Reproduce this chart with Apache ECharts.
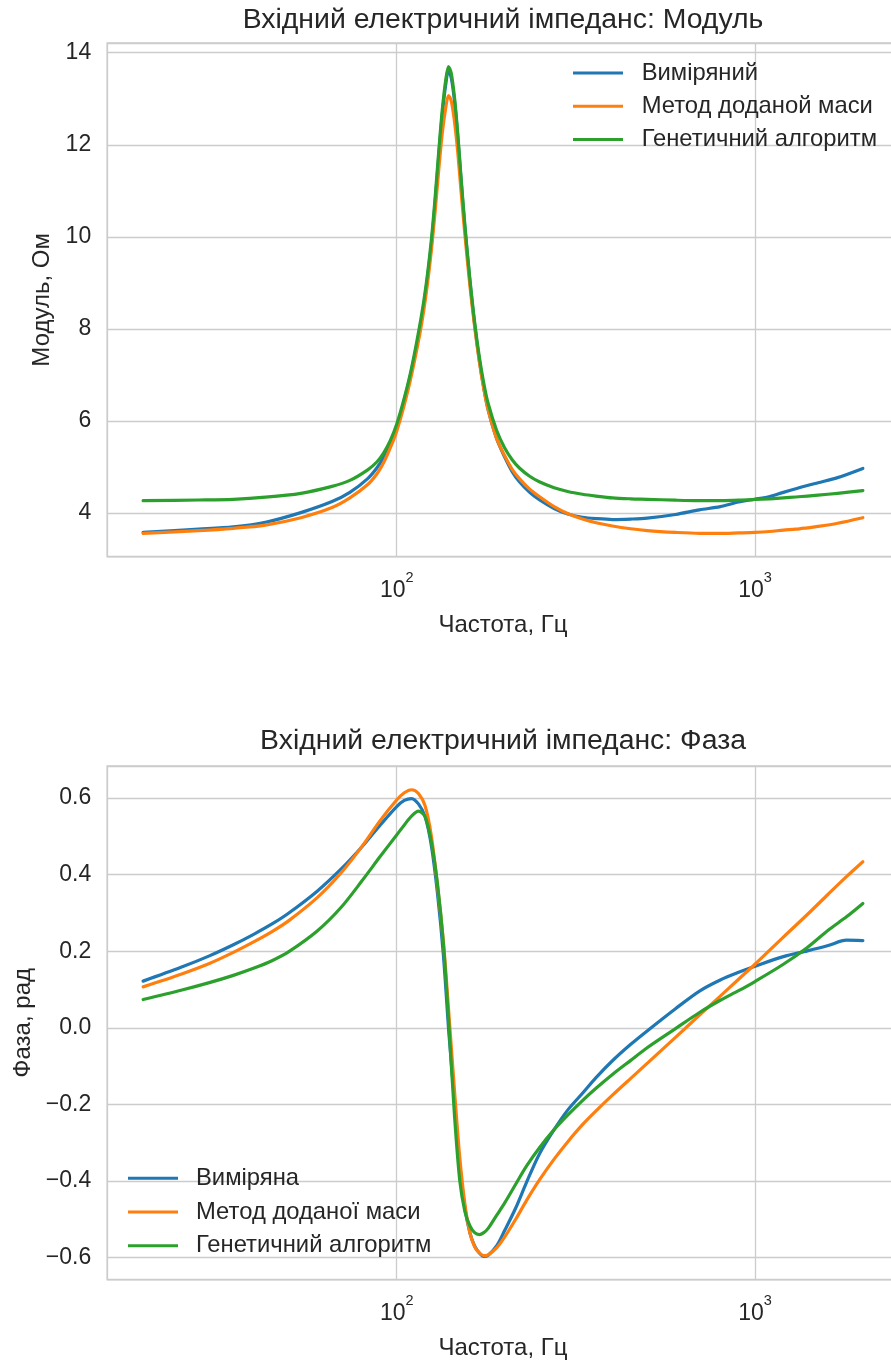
<!DOCTYPE html>
<html>
<head>
<meta charset="utf-8">
<script src="https://cdn.jsdelivr.net/npm/echarts@6/dist/echarts.min.js"></script>
<style>
html,body{margin:0;padding:0;background:#fff;}
#chart{width:891px;height:1361px;}
</style>
</head>
<body>
<div id="chart"></div>
<script>
// ---- Data ----
const freqModulus = [19.6, 28, 35, 43, 54, 66, 74, 83, 88, 92, 96, 100, 105, 110, 117, 121, 125, 128, 131, 134, 137, 139.5, 142, 145, 148, 151, 155, 160, 165, 170, 175, 180, 190, 200, 210, 220, 235, 250, 275, 300, 330, 360, 400, 450, 500, 600, 700, 800, 900, 1000, 1100, 1200, 1300, 1400, 1500, 1700, 2000];
const modulusMeasured = [3.58, 3.65, 3.70, 3.80, 4.01, 4.25, 4.45, 4.75, 4.98, 5.22, 5.52, 5.88, 6.45, 7.1, 8.15, 8.92, 9.85, 10.75, 11.75, 12.65, 13.3, 13.62, 13.45, 12.95, 12.2, 11.3, 10.2, 9.05, 8.1, 7.33, 6.72, 6.24, 5.62, 5.22, 4.9, 4.68, 4.45, 4.29, 4.10, 3.98, 3.91, 3.88, 3.86, 3.87, 3.89, 3.97, 4.07, 4.14, 4.24, 4.30, 4.36, 4.45, 4.53, 4.60, 4.66, 4.77, 4.97];
const modulusAddedMass = [3.56, 3.62, 3.67, 3.74, 3.90, 4.12, 4.33, 4.62, 4.85, 5.10, 5.42, 5.78, 6.35, 7.0, 8.05, 8.8, 9.72, 10.55, 11.45, 12.25, 12.8, 13.07, 12.95, 12.5, 11.85, 11.05, 10.05, 8.95, 8.05, 7.3, 6.7, 6.24, 5.62, 5.25, 4.95, 4.75, 4.52, 4.36, 4.14, 3.99, 3.87, 3.79, 3.72, 3.66, 3.62, 3.58, 3.56, 3.56, 3.57, 3.58, 3.60, 3.63, 3.65, 3.68, 3.71, 3.78, 3.90];
const modulusGenetic = [4.27, 4.285, 4.30, 4.345, 4.43, 4.58, 4.71, 4.94, 5.11, 5.31, 5.58, 5.93, 6.50, 7.15, 8.25, 9.0, 9.95, 10.85, 11.85, 12.75, 13.4, 13.70, 13.55, 13.02, 12.25, 11.35, 10.25, 9.1, 8.15, 7.4, 6.82, 6.38, 5.80, 5.42, 5.16, 4.98, 4.80, 4.68, 4.55, 4.47, 4.41, 4.37, 4.33, 4.31, 4.30, 4.28, 4.27, 4.27, 4.28, 4.30, 4.31, 4.33, 4.35, 4.37, 4.39, 4.43, 4.49];

const freqPhase = [19.6, 25, 30, 35, 40, 45, 50, 60, 70, 80, 90, 100, 105, 110, 115, 120, 125, 130, 135, 140, 145, 150, 155, 160, 165, 170, 175, 180, 190, 200, 215, 230, 250, 275, 300, 330, 360, 400, 450, 500, 600, 700, 800, 900, 1000, 1200, 1400, 1600, 1800, 2000];
const phaseMeasured = [0.122, 0.158, 0.188, 0.217, 0.245, 0.272, 0.300, 0.357, 0.415, 0.473, 0.53, 0.578, 0.594, 0.599, 0.585, 0.552, 0.475, 0.35, 0.19, -0.02, -0.19, -0.36, -0.47, -0.535, -0.57, -0.588, -0.597, -0.594, -0.57, -0.53, -0.47, -0.405, -0.33, -0.266, -0.215, -0.171, -0.13, -0.086, -0.043, -0.008, 0.05, 0.096, 0.125, 0.145, 0.161, 0.186, 0.201, 0.215, 0.229, 0.228];
const phaseAddedMass = [0.107, 0.14, 0.168, 0.197, 0.225, 0.252, 0.28, 0.34, 0.405, 0.474, 0.542, 0.595, 0.614, 0.622, 0.612, 0.58, 0.50, 0.37, 0.225, 0.03, -0.165, -0.34, -0.46, -0.535, -0.572, -0.588, -0.595, -0.593, -0.575, -0.547, -0.4995, -0.452, -0.398, -0.343, -0.298, -0.253, -0.217, -0.176, -0.132, -0.093, -0.025, 0.033, 0.083, 0.127, 0.166, 0.237, 0.296, 0.349, 0.395, 0.434];
const phaseGenetic = [0.074, 0.098, 0.118, 0.137, 0.156, 0.176, 0.199, 0.253, 0.315, 0.384, 0.448, 0.504, 0.53, 0.553, 0.566, 0.552, 0.485, 0.375, 0.22, 0.0, -0.23, -0.40, -0.48, -0.517, -0.535, -0.54, -0.535, -0.524, -0.49, -0.458, -0.408, -0.362, -0.314, -0.266, -0.228, -0.19, -0.158, -0.122, -0.085, -0.052, -0.002, 0.04, 0.072, 0.097, 0.121, 0.166, 0.21, 0.255, 0.29, 0.325];

const namesModulus = ['Виміряний', 'Метод доданой маси', 'Генетичний алгоритм'];
const namesPhase = ['Виміряна', 'Метод доданої маси', 'Генетичний алгоритм'];
const titles = ['Вхідний електричний імпеданс: Модуль', 'Вхідний електричний імпеданс: Фаза'];
const yNames = ['Модуль, Ом', 'Фаза, рад'];
const xName = 'Частота, Гц';
const colors = ['#1f77b4', '#ff7f0e', '#2ca02c'];

// axis ranges
const xRange = [15.56, 2518];
const yRangeModulus = [3.053, 14.21];
const yRangePhase = [-0.658, 0.684];

// ---- Styling ----
const FONT = '"Liberation Sans", Arial, sans-serif';
const TXT = '#262626';
const GRIDC = '#cccccc';

function zip(xs, ys) { return xs.map((x, i) => [x, ys[i]]); }

const grids = [
  {left: 107.2, top: 43, width: 791.5, height: 513.7},
  {left: 107.2, top: 766, width: 791.5, height: 513.7}
];

function xAxisFor(idx) {
  return {
    type: 'log', logBase: 10, gridIndex: idx,
    min: xRange[0], max: xRange[1],
    axisLine: {show: false}, axisTick: {show: false},
    minorTick: {show: false}, minorSplitLine: {show: false},
    splitLine: {show: true, lineStyle: {color: GRIDC, width: 1.3}},
    axisLabel: {
      showMinLabel: false, showMaxLabel: false, margin: 13.8,
      formatter: function (v) {
        const e = Math.round(Math.log10(v));
        return '{b|10}{s|' + e + '}';
      },
      rich: {
        b: {fontSize: 23, lineHeight: 31.5, verticalAlign: 'bottom', fontFamily: FONT, color: TXT},
        s: {fontSize: 14.5, lineHeight: 15, verticalAlign: 'top', fontFamily: FONT, color: TXT}
      }
    },
    name: xName, nameLocation: 'middle', nameGap: 56.5,
    nameTextStyle: {fontSize: 24, color: TXT, fontFamily: FONT}
  };
}

function yAxisFor(idx, range, step, nameGap, fmt) {
  return {
    type: 'value', gridIndex: idx, min: range[0], max: range[1],
    minInterval: step, maxInterval: step,
    axisLine: {show: false}, axisTick: {show: false},
    splitLine: {show: true, lineStyle: {color: GRIDC, width: 1.3}},
    axisLabel: {showMinLabel: false, showMaxLabel: false, margin: 16,
      fontSize: 23, color: TXT, fontFamily: FONT, formatter: fmt},
    name: yNames[idx], nameLocation: 'middle', nameGap: nameGap,
    nameTextStyle: {fontSize: 24, color: TXT, fontFamily: FONT}
  };
}

function lineSeries(name, xi, xs, ys, color) {
  return {
    type: 'line', name: name, xAxisIndex: xi, yAxisIndex: xi,
    data: zip(xs, ys), showSymbol: false, symbol: 'none',
    smooth: 0.3, color: color,
    lineStyle: {width: 3.2, color: color, cap: 'round', join: 'round'}, itemStyle: {color: color},
    emphasis: {disabled: true}
  };
}

const option = {
  animation: false,
  backgroundColor: '#ffffff',
  textStyle: {fontFamily: FONT},
  title: [
    {text: titles[0], left: 503, top: 5.8, textAlign: 'center', padding: 0,
     textStyle: {fontSize: 28.4, fontWeight: 'normal', color: TXT, fontFamily: FONT}},
    {text: titles[1], left: 503, top: 727.3, textAlign: 'center', padding: 0,
     textStyle: {fontSize: 28.4, fontWeight: 'normal', color: TXT, fontFamily: FONT}}
  ],
  grid: grids.map(g => Object.assign({show: true, borderColor: GRIDC, borderWidth: 1.5, backgroundColor: 'transparent', containLabel: false, outerBoundsMode: 'none'}, g)),
  xAxis: [xAxisFor(0), xAxisFor(1)],
  yAxis: [
    yAxisFor(0, yRangeModulus, 2, 51, v => String(Math.round(v))),
    yAxisFor(1, yRangePhase, 0.2, 70, v => (v < -1e-9 ? '\u2212' : '') + Math.abs(v).toFixed(1))
  ],
  legend: [
    {data: namesModulus, left: 573, top: 60, orient: 'vertical', padding: 0,
     itemWidth: 50, itemHeight: 3, itemGap: 7.3, icon: 'rect', selectedMode: false,
     textStyle: {fontSize: 23.8, lineHeight: 26, color: TXT, fontFamily: FONT, padding: [0, 0, 0, 13.7]}},
    {data: namesPhase, left: 128, top: 1165.3, orient: 'vertical', padding: 0,
     itemWidth: 50, itemHeight: 3, itemGap: 7.7, icon: 'rect', selectedMode: false,
     textStyle: {fontSize: 23.8, lineHeight: 26, color: TXT, fontFamily: FONT, padding: [0, 0, 0, 13]}}
  ],
  series: [
    lineSeries(namesModulus[0], 0, freqModulus, modulusMeasured, colors[0]),
    lineSeries(namesModulus[1], 0, freqModulus, modulusAddedMass, colors[1]),
    lineSeries(namesModulus[2], 0, freqModulus, modulusGenetic, colors[2]),
    lineSeries(namesPhase[0], 1, freqPhase, phaseMeasured, colors[0]),
    lineSeries(namesPhase[1], 1, freqPhase, phaseAddedMass, colors[1]),
    lineSeries(namesPhase[2], 1, freqPhase, phaseGenetic, colors[2])
  ]
};

const chart = echarts.init(document.getElementById('chart'), null, {renderer: 'canvas'});
chart.setOption(option);
</script>
</body>
</html>
